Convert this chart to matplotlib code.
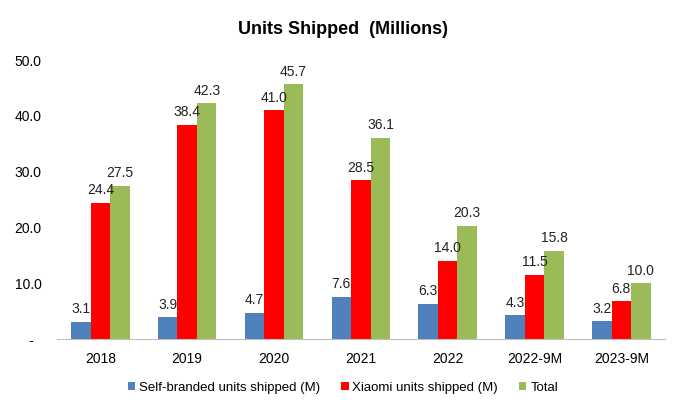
import matplotlib
matplotlib.use("Agg")
import matplotlib.pyplot as plt
import numpy as np

plt.rcParams['font.family'] = ['Liberation Sans', 'DejaVu Sans']

categories = ["2018", "2019", "2020", "2021", "2022", "2022-9M", "2023-9M"]
self_branded = [3.1, 3.9, 4.7, 7.6, 6.3, 4.3, 3.2]
xiaomi = [24.4, 38.4, 41.0, 28.5, 14.0, 11.5, 6.8]
total = [27.5, 42.3, 45.7, 36.1, 20.3, 15.8, 10.0]

series = [
    ("Self-branded units shipped (M)", self_branded, "#4F81BD"),
    ("Xiaomi units shipped (M)", xiaomi, "#FF0000"),
    ("Total", total, "#9BBB59"),
]

fig = plt.figure(figsize=(6.86, 4.12), dpi=100)
ax = fig.add_axes([0.083, 0.177, 0.886, 0.677])

x = np.arange(len(categories))
width = 0.225
for i, (label, vals, color) in enumerate(series):
    pos = x + (i - 1) * width
    ax.bar(pos, vals, width, color=color, label=label)
    for p, v in zip(pos, vals):
        ax.text(p, v + 1.0, f"{v:.1f}", ha="center", va="bottom", fontsize=10, color="#222222")

ax.set_xlim(-0.5, len(categories) - 0.5)
ax.set_ylim(0, 50)
ax.set_yticks([0, 10, 20, 30, 40, 50])
ax.set_yticklabels(["-  ", "10.0", "20.0", "30.0", "40.0", "50.0"], fontsize=10)
ax.set_xticks(x)
ax.set_xticklabels(categories, fontsize=10)
ax.tick_params(axis="x", length=0, pad=9)
ax.tick_params(axis="y", length=0, pad=11)
for side in ["top", "right", "left"]:
    ax.spines[side].set_visible(False)
ax.spines["bottom"].set_color("#BFBFBF")

fig.suptitle("Units Shipped  (Millions)", x=0.5, y=0.95, fontsize=13, fontweight="bold")

fig.legend(loc="center", bbox_to_anchor=(0.5, 1 - 388 / 412), ncol=3, frameon=False,
           fontsize=9.5, handlelength=0.55, handleheight=0.55, handletextpad=0.3, columnspacing=1.6)

fig.savefig("out.png", dpi=100)
